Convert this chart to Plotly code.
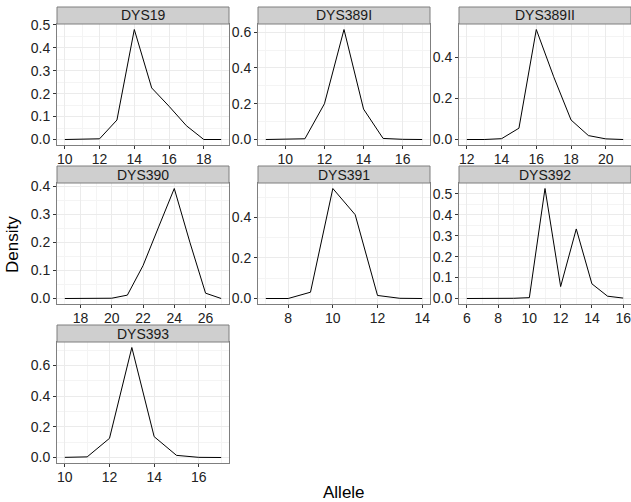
import plotly.graph_objects as go

W, H = 631, 502

# ---- data ----
markers = ["DYS19", "DYS389I", "DYS389II", "DYS390", "DYS391", "DYS392", "DYS393"]

dys19_allele = [10, 11, 12, 13, 14, 15, 16, 17, 18, 19]
dys19_density = [0.0, 0.0, 0.003, 0.085, 0.48, 0.225, 0.145, 0.06, 0.0, 0.0]

dys389i_allele = [9, 10, 11, 12, 13, 14, 15, 16, 17]
dys389i_density = [0.0, 0.0, 0.004, 0.2, 0.615, 0.17, 0.006, 0.001, 0.0]

dys389ii_allele = [12, 13, 14, 15, 16, 17, 18, 19, 20, 21]
dys389ii_density = [0.0, 0.0, 0.004, 0.055, 0.535, 0.305, 0.095, 0.019, 0.003, 0.0]

dys390_allele = [17, 18, 19, 20, 21, 22, 23, 24, 25, 26, 27]
dys390_density = [0.0, 0.0, 0.0, 0.001, 0.012, 0.117, 0.255, 0.392, 0.2, 0.019, 0.0]

dys391_allele = [7, 8, 9, 10, 11, 12, 13, 14]
dys391_density = [0.0, 0.0, 0.031, 0.542, 0.413, 0.015, 0.001, 0.0]

dys392_allele = [6, 7, 8, 9, 10, 11, 12, 13, 14, 15, 16]
dys392_density = [0.0, 0.0, 0.0, 0.001, 0.004, 0.525, 0.057, 0.332, 0.07, 0.011, 0.002]

dys393_allele = [10, 11, 12, 13, 14, 15, 16, 17]
dys393_density = [0.001, 0.004, 0.125, 0.718, 0.136, 0.014, 0.001, 0.0]

alleles = [dys19_allele, dys389i_allele, dys389ii_allele, dys390_allele,
           dys391_allele, dys392_allele, dys393_allele]
densities = [dys19_density, dys389i_density, dys389ii_density, dys390_density,
             dys391_density, dys392_density, dys393_density]

x_ticks = [[10, 12, 14, 16, 18], [10, 12, 14, 16], [12, 14, 16, 18, 20],
           [18, 20, 22, 24, 26], [8, 10, 12, 14], [6, 8, 10, 12, 14, 16],
           [10, 12, 14, 16]]
y_dticks = [0.1, 0.2, 0.2, 0.1, 0.2, 0.1, 0.2]

# ---- layout geometry (pixels) ----
col_left = [57, 258, 459]
panel_w = 172
row_top = [24, 183, 342]
panel_h = 121
strip_h = 17

FONT = "Liberation Sans, Arial, Helvetica, sans-serif"
GRID = "#EBEBEB"
MINOR = "#F4F4F4"
BORDER = "#7F7F7F"

fig = go.Figure()
shapes = []
annotations = []

for i, name in enumerate(markers):
    r, c = divmod(i, 3)
    x0p, x1p = col_left[c], col_left[c] + panel_w
    y0p, y1p = row_top[r], row_top[r] + panel_h
    xd = [x0p / W, min(x1p / W, 1.0)]
    yd = [1 - y1p / H, 1 - y0p / H]
    k = "" if i == 0 else str(i + 1)

    xs, ys = alleles[i], densities[i]
    xmin, xmax = min(xs), max(xs)
    ymin, ymax = min(ys), max(ys)
    xpad = 0.05 * (xmax - xmin)
    ypad = 0.05 * (ymax - ymin)

    fig.add_trace(go.Scatter(x=xs, y=ys, mode="lines",
                             line=dict(color="black", width=1),
                             xaxis="x" + k, yaxis="y" + k, showlegend=False,
                             hoverinfo="skip"))

    common = dict(showgrid=True, gridcolor=GRID, gridwidth=1,
                  zeroline=False, showline=True, mirror=True,
                  linecolor=BORDER, linewidth=1,
                  ticks="outside", ticklen=3, tickwidth=1, tickcolor="#333333",
                  ticklabeloverflow="allow",
                  tickfont=dict(family=FONT, size=14, color="#222222"))

    fig.update_layout(**{
        "xaxis" + k: dict(domain=xd, anchor="y" + k,
                          range=[xmin - xpad, xmax + xpad],
                          tickmode="array", tickvals=x_ticks[i],
                          ticklabelstandoff=-2,
                          minor=dict(dtick=1, showgrid=True, gridcolor=MINOR,
                                     gridwidth=0.6, ticks=""),
                          **common),
        "yaxis" + k: dict(domain=yd, anchor="x" + k,
                          range=[ymin - ypad, ymax + ypad],
                          tick0=0, dtick=y_dticks[i], tickformat=".1f",
                          minor=dict(dtick=y_dticks[i] / 2, showgrid=True,
                                     gridcolor=MINOR, gridwidth=0.6, ticks=""),
                          **common),
    })

    # strip
    shapes.append(dict(type="rect", xref="paper", yref="paper",
                       x0=x0p / W, x1=min(x1p / W, 1.0),
                       y0=1 - y0p / H, y1=1 - (y0p - strip_h) / H,
                       fillcolor="#CFCFCF", line=dict(color=BORDER, width=1),
                       layer="above"))
    annotations.append(dict(text=name, xref="paper", yref="paper",
                            x=(x0p + x1p) / 2 / W,
                            y=1 - (y0p - strip_h / 2) / H,
                            xanchor="center", yanchor="middle", showarrow=False,
                            borderpad=0,
                            font=dict(family=FONT, size=14, color="#1A1A1A")))

annotations.append(dict(text="Density", xref="paper", yref="paper",
                        x=12 / W, y=1 - 245 / H, textangle=-90,
                        xanchor="center", yanchor="middle", showarrow=False,
                        font=dict(family=FONT, size=17, color="black")))
annotations.append(dict(text="Allele", xref="paper", yref="paper",
                        x=343.5 / W, y=1 - 492 / H,
                        xanchor="center", yanchor="middle", showarrow=False,
                        borderpad=0,
                        font=dict(family=FONT, size=17, color="black")))

fig.update_layout(width=W, height=H,
                  margin=dict(l=0, r=0, t=0, b=0, autoexpand=False),
                  paper_bgcolor="white", plot_bgcolor="white",
                  shapes=shapes, annotations=annotations,
                  font=dict(family=FONT))

fig.write_html("out.html", config={"displayModeBar": False},
               post_script="document.body.style.margin='0';document.body.style.overflow='hidden';")
